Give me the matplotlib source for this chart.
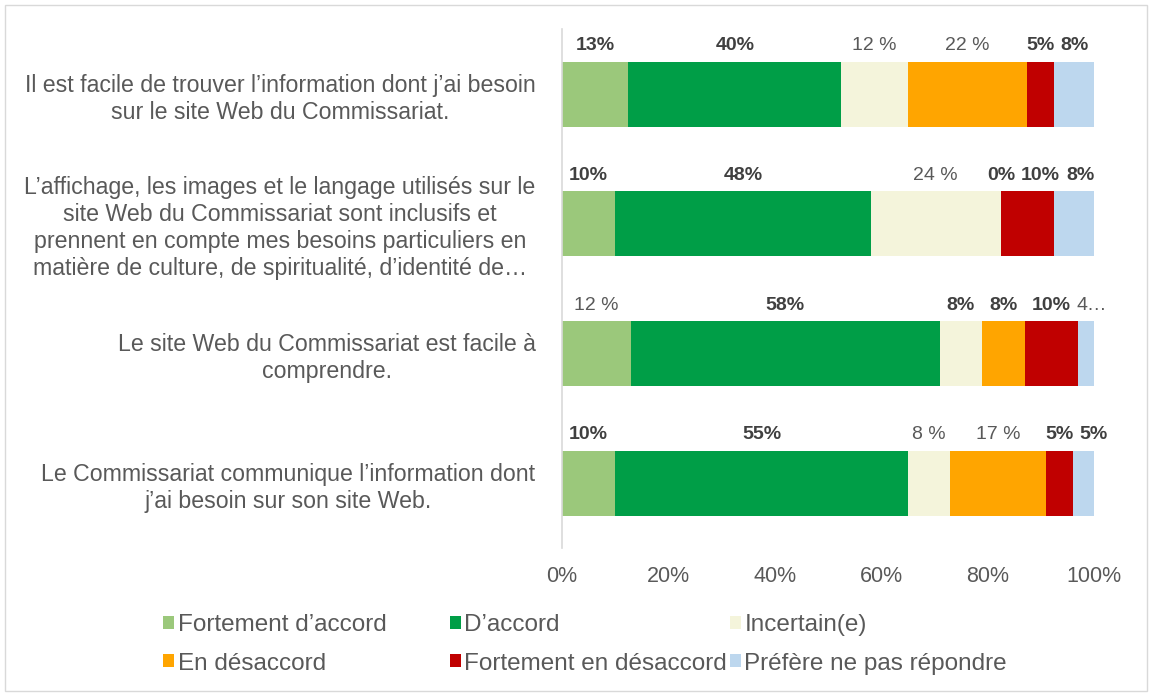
# -*- coding: utf-8 -*-
# stacked horizontal bars - satisfaction with the Commissariat web site
import numpy as np
from matplotlib import pyplot as plt
from matplotlib.patches import Rectangle

# data
questions = [
    "Il est facile de trouver l\u2019information dont j\u2019ai besoin\nsur le site Web du Commissariat.",
    "L\u2019affichage, les images et le langage utilis\u00e9s sur le\nsite Web du Commissariat sont inclusifs et\n"
    "prennent en compte mes besoins particuliers en\nmati\u00e8re de culture, de spiritualit\u00e9, d\u2019identit\u00e9 de\u2026",
    "Le site Web du Commissariat est facile \u00e0\ncomprendre.",
    "Le Commissariat communique l\u2019information dont\nj\u2019ai besoin sur son site Web.",
]
series = ["Fortement d\u2019accord", "D\u2019accord", "Incertain(e)",
          "En d\u00e9saccord", "Fortement en d\u00e9saccord", "Pr\u00e9f\u00e8re ne pas r\u00e9pondre"]

fortement_accord = [12.5, 10, 13, 10]
accord = [40, 48, 58, 55]
incertain = [12.5, 24.5, 8, 8]
desaccord = [22.5, 0, 8, 18]
fortement_desaccord = [5, 10, 10, 5]
sans_reponse = [7.5, 7.5, 3, 4]

# data labels as shown on the chart
labels_fa = ["13%", "10%", "12 %", "10%"]
labels_a = ["40%", "48%", "58%", "55%"]
labels_i = ["12 %", "24 %", "8%", "8 %"]
labels_d = ["22 %", "0%", "8%", "17 %"]
labels_fd = ["5%", "10%", "10%", "5%"]
labels_nr = ["8%", "8%", "4\u2026", "5%"]

colors = ["#9BC87B", "#009E47", "#F4F4DB", "#FFA500", "#C00000", "#BDD7EE"]
txt = "#595959"

plt.rcParams['font.family'] = ['Liberation Sans', 'DejaVu Sans']

values = [fortement_accord, accord, incertain, desaccord, fortement_desaccord, sans_reponse]
labels = [labels_fa, labels_a, labels_i, labels_d, labels_fd, labels_nr]

fig = plt.figure(figsize=(11.52, 6.97), dpi=100)
ax = fig.add_axes([0.4878, 0.2138, 0.4618, 0.7442])

y = np.arange(len(questions))
left = np.zeros(len(questions))
texts = [[] for _ in questions]
handles = []
for vals, labs, col, name in zip(values, labels, colors, series):
    vals = np.array(vals, dtype=float)
    h = ax.barh(y, vals, left=left, height=0.5, color=col, label=name)
    handles.append(h)
    for i in range(len(questions)):
        bold = ' ' not in labs[i] and '\u2026' not in labs[i]
        t = ax.annotate(labs[i], (left[i] + vals[i] / 2, y[i] - 0.25),
                        xytext=(0, 11.5), textcoords='offset points',
                        ha='center', va='center', fontsize=14,
                        fontweight='bold' if bold else 'normal',
                        color='#404040' if bold else txt)
        texts[i].append(t)
    left += vals

ax.set_xlim(0, 100)
ax.set_ylim(len(questions) - 0.5, -0.5)
ax.set_xticks([0, 20, 40, 60, 80, 100])
ax.set_xticklabels(['0%', '20%', '40%', '60%', '80%', '100%'])
ax.set_yticks(y)
ax.set_yticklabels(questions, multialignment='center')
for lab in ax.get_yticklabels():
    lab.set_linespacing(1.22)
ax.tick_params(axis='both', length=0, labelcolor=txt)
ax.tick_params(axis='x', pad=13, labelsize=15.5)
ax.tick_params(axis='y', pad=19, labelsize=16.7)
for s in ['top', 'right', 'bottom']:
    ax.spines[s].set_visible(False)
ax.spines['left'].set_color('#D9D9D9')
ax.spines['left'].set_linewidth(1.2)

# push overlapping data labels to the right (like Excel does)
fig.canvas.draw()
r = fig.canvas.get_renderer()
for row in texts:
    prev_right = None
    for t in row:
        bb = t.get_window_extent(r)
        if prev_right is not None and bb.x0 < prev_right + 6:
            shift = prev_right + 6 - bb.x0
            x0, y0 = t.xyann
            t.xyann = (x0 + shift * 72 / fig.dpi, y0)
            bb = t.get_window_extent(r)
        prev_right = bb.x1

# legend: three columns placed like the Excel legend
col_x = [0.1415, 0.3905, 0.6335]
for c in range(3):
    leg = fig.legend([handles[c], handles[c + 3]], [series[c], series[c + 3]],
                     loc='upper left', bbox_to_anchor=(col_x[c], 0.119),
                     frameon=False, fontsize=17.5, labelcolor=txt,
                     handlelength=0.45, handleheight=0.45, handletextpad=0.15,
                     borderaxespad=0, borderpad=0, labelspacing=0.68)

fig.patches.append(Rectangle((0.004, 0.008), 0.992, 0.985, transform=fig.transFigure,
                             fill=False, edgecolor='#D9D9D9', linewidth=1))

fig.savefig('out.png', dpi=100)
